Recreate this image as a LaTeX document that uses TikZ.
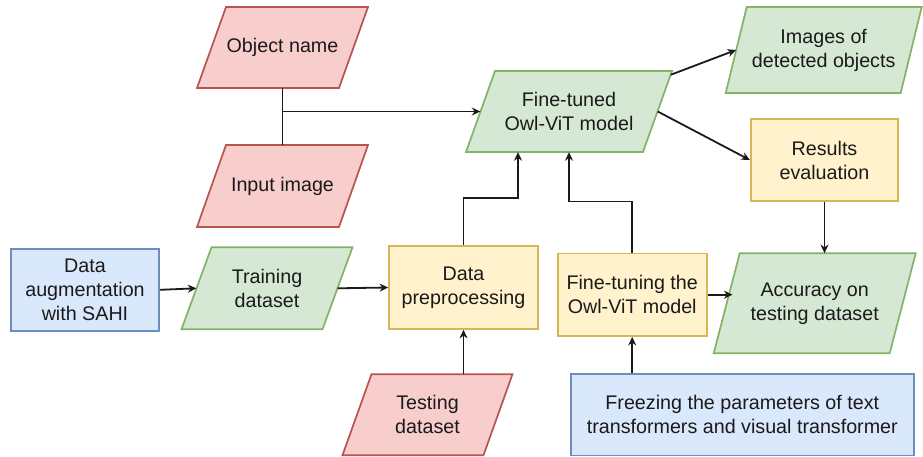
\documentclass[tikz,border=0pt]{standalone}
\usepackage{fontspec}
\setmainfont{Liberation Sans}
\usetikzlibrary{arrows.meta,calc}
\definecolor{redF}{HTML}{F8CECC}\definecolor{redD}{HTML}{B85450}
\definecolor{grnF}{HTML}{D5E8D4}\definecolor{grnD}{HTML}{82B366}
\definecolor{yelF}{HTML}{FFF2CC}\definecolor{yelD}{HTML}{D6B656}
\definecolor{bluF}{HTML}{DAE8FC}\definecolor{bluD}{HTML}{6C8EBF}
\definecolor{ink}{HTML}{1A1A1A}
\tikzset{
  txt/.style={align=center, font=\fontsize{19.7}{24}\selectfont, text=ink, inner sep=0pt},
  shp/.style={line width=1.7pt},
  rsty/.style={fill=redF, draw=redD},
  gsty/.style={fill=grnF, draw=grnD},
  ysty/.style={fill=yelF, draw=yelD},
  bsty/.style={fill=bluF, draw=bluD},
  conn/.style={draw=ink, line width=1.8pt, -{Stealth[length=8.5pt,width=8pt]}},
  ln/.style={draw=ink, line width=1.8pt},
}
% name, cx, cy, width (mid), height, slant, style, text
\newcommand{\pgram}[8]{%
  \path[#7, shp] ({#2-#4/2-#6/2},{#3+#5/2}) -- ({#2-#4/2+#6/2},{#3-#5/2}) -- ({#2+#4/2+#6/2},{#3-#5/2}) -- ({#2+#4/2-#6/2},{#3+#5/2}) -- cycle;
  \node[txt, minimum width=#4pt, minimum height=#5pt] (#1) at (#2,#3) {#8};
}
\begin{document}
\begin{tikzpicture}[x=1pt,y=-1pt]
\useasboundingbox (0,0) rectangle (923,457);
% parallelograms
\pgram{objname}{282.5}{47.5}{142}{81}{29}{rsty}{Object name}
\pgram{inimg}{282.5}{186}{142}{82}{29}{rsty}{Input image}
\pgram{finetuned}{569}{111.5}{177}{81}{29}{gsty}{Fine-tuned\\Owl-ViT model}
\pgram{images}{823.7}{50}{175}{86}{21}{gsty}{Images of\\detected objects}
\pgram{training}{267}{288.3}{141}{82}{30}{gsty}{Training\\dataset}
\pgram{testing}{427.5}{414.7}{141}{81}{29}{rsty}{Testing\\dataset}
\pgram{accuracy}{814.7}{303.3}{176}{100}{26}{gsty}{Accuracy on\\testing dataset}
% rectangles
\node[txt, shp, bsty, minimum width=148.6pt, minimum height=81.7pt] (aug) at (85,289.8) {Data\\augmentation\\with SAHI};
\node[txt, shp, ysty, minimum width=149pt, minimum height=83pt] (prep) at (463.5,287.5) {Data\\preprocessing};
\node[txt, shp, ysty, minimum width=147.6pt, minimum height=82pt] (results) at (824.5,160) {Results\\evaluation};
\node[txt, shp, ysty, minimum width=149pt, minimum height=82.7pt] (finetuning) at (632.2,294.7) {Fine-tuning the\\Owl-ViT model};
\node[txt, shp, bsty, minimum width=343.3pt, minimum height=81.3pt] (freezing) at (742.3,414.7) {Freezing the parameters of text\\transformers and visual transformer};
% connectors
\draw[ln] (objname.south) -- (inimg.north);
\coordinate (j) at (objname.south |- finetuned.west);
\draw[conn] (j) -- (finetuned.west);
\draw[conn] ([shift={(13,4)}]finetuned.north east) -- (images.west);
\draw[conn] (finetuned.east) -- (results.west);
\draw[conn] (aug.east) -- (training.west);
\draw[conn] (training.east) -- (prep.west);
\draw[conn] (prep.south |- testing.north) -- (prep.south);
\draw[conn] (prep.north) -- ++(0,-47) -| ([xshift=-51pt]finetuned.south);
\draw[conn] (finetuning.north) -- ++(0,-51) -| (finetuned.south);
\draw[conn] (finetuning.east) -- ([xshift=6pt]finetuning.east -| accuracy.west);
\draw[conn] (results.south) -- (results.south |- accuracy.north);
\draw[conn] (finetuning.south |- freezing.north) -- (finetuning.south);
\end{tikzpicture}
\end{document}
